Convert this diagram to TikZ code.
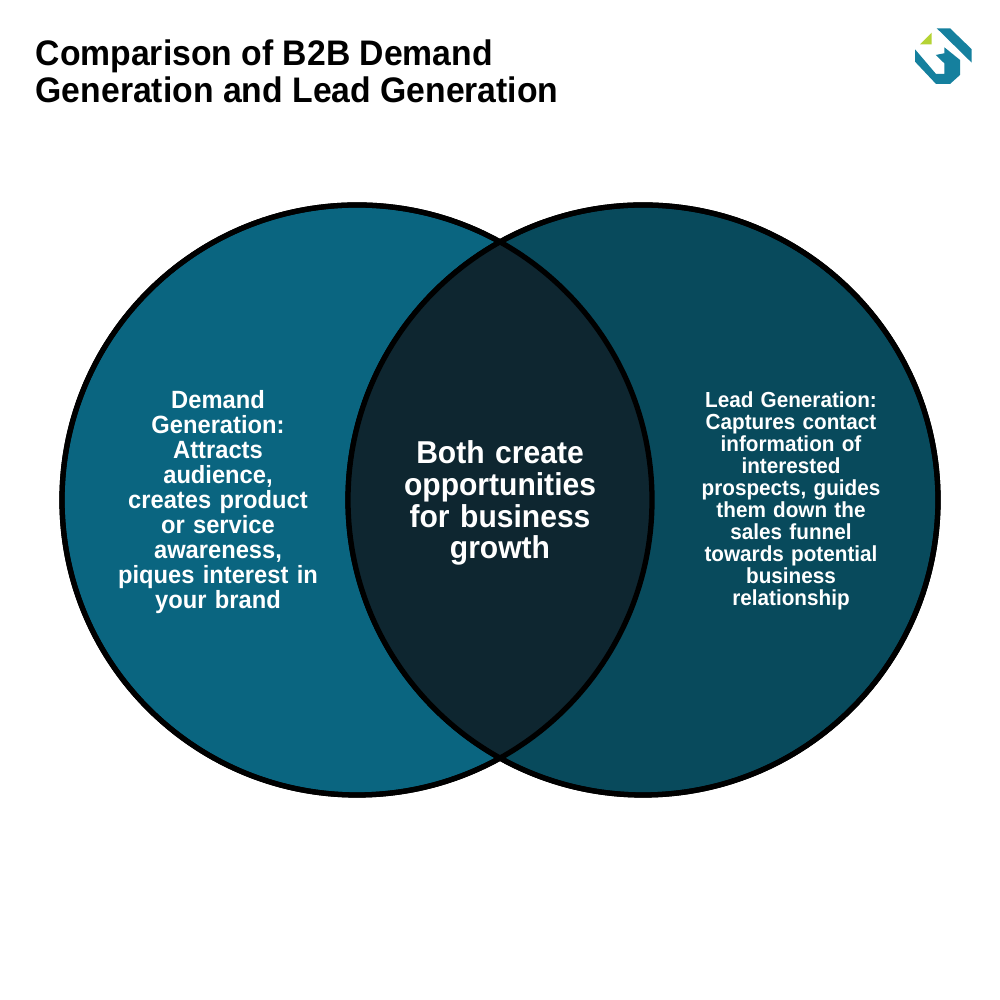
\documentclass[tikz,border=0pt]{standalone}
\usepackage{fontspec}
\setmainfont[FakeStretch=0.95]{Liberation Sans}
\usetikzlibrary{positioning}
\definecolor{demandblue}{HTML}{0A6580}
\definecolor{leadblue}{HTML}{084A5C}
\definecolor{bothdark}{HTML}{0E2630}
\definecolor{logoblue}{HTML}{15809E}
\definecolor{logogreen}{HTML}{B5D334}
\begin{document}
\begin{tikzpicture}[
    venn/.style={circle, draw=black, line width=1.5pt, minimum size=5.9cm, inner sep=0pt, outer sep=0pt},
    vlabel/.style={align=center, text=white, font=\bfseries\fontsize{#1}{#1}\selectfont},
    vlabel/.default=7
]
\useasboundingbox (0,0) rectangle (10,10);
\fill[white] (0,0) rectangle (10,10);
% title
\node[anchor=north west, inner sep=0pt, align=left, font=\bfseries\fontsize{10.1}{10.6}\selectfont] (title) at (0.35,9.61) {Comparison of B2B Demand\\Generation and Lead Generation};
% logo
\fill[logogreen] (9.20,9.557) -- (9.317,9.673) -- (9.317,9.557) -- cycle;
\fill[logoblue] (9.367,9.717) -- (9.50,9.717) -- (9.717,9.507) -- (9.717,9.373) -- cycle;
\fill[logoblue] (9.15,9.507) -- (9.15,9.383) -- (9.36,9.16) -- (9.50,9.16) -- (9.60,9.25) -- (9.60,9.40) -- (9.443,9.527) -- (9.443,9.467) -- (9.357,9.45) -- (9.443,9.367) -- (9.443,9.26) -- (9.36,9.26) -- cycle;
% circles
\node[venn, fill=demandblue] (demand) at (3.57,5.00) {};
\node[venn, fill=leadblue] (lead) at (6.43,5.00) {};
\begin{scope}
\clip (3.57,5.00) circle (2.95);
\fill[bothdark] (6.43,5.00) circle (2.95);
\end{scope}
\draw[line width=1.5pt] (3.57,5.00) circle (2.95);
\draw[line width=1.5pt] (6.43,5.00) circle (2.95);
% labels
\node[vlabel=7.1, text width=2.4cm, inner sep=0pt] (demandtext) at (2.18,4.98) {\baselineskip=7.1pt Demand\\Generation:\\Attracts\\audience,\\creates product\\or service\\awareness,\\piques interest in\\your brand};
\node[vlabel=9, text width=2.4cm, inner sep=0pt] (bothtext) at (5.00,4.97) {\baselineskip=9.05pt Both create\\opportunities\\for business\\growth};
\node[vlabel=6.2, text width=2.4cm, inner sep=0pt] (leadtext) at (7.91,4.99) {\baselineskip=6.25pt Lead Generation:\\Captures contact\\information of\\interested\\prospects, guides\\them down the\\sales funnel\\towards potential\\business\\relationship};
\end{tikzpicture}
\end{document}
